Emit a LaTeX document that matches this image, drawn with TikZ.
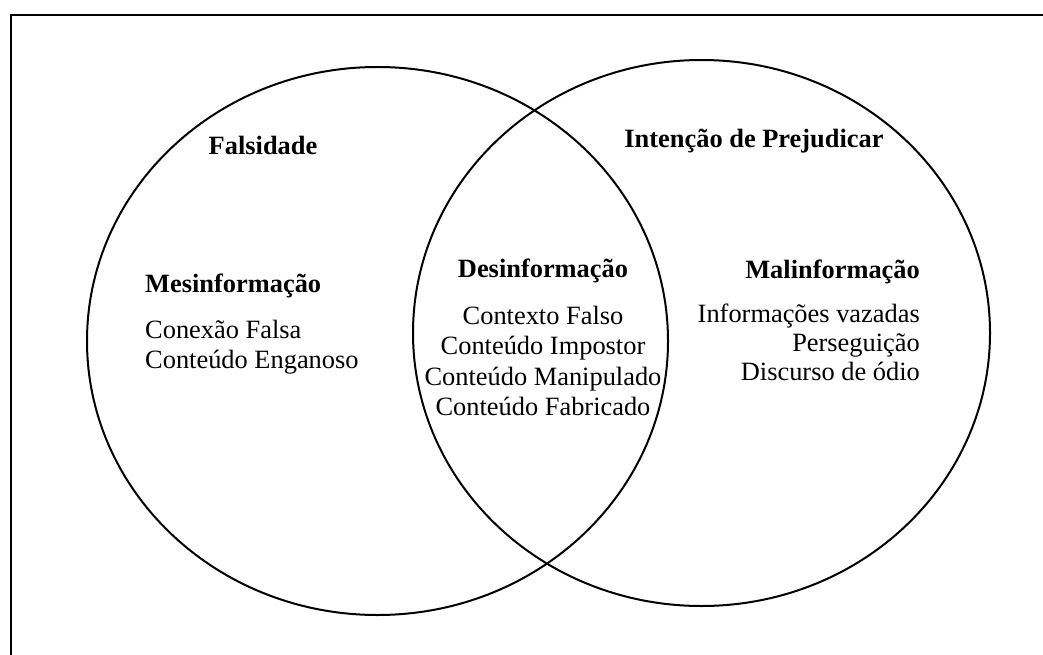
\documentclass[tikz,border=0pt]{standalone}
\usepackage{fontspec}
\setmainfont{Liberation Serif}
\begin{document}
\begin{tikzpicture}[x=1pt,y=-1pt,
  ring/.style={draw=black,line width=2pt},
  frame/.style={draw=black,line width=2pt},
  title/.style={inner sep=0pt,font=\fontsize{26.4}{30}\selectfont\bfseries},
  item/.style={inner sep=0pt,font=\fontsize{26.4}{30}\selectfont}]
\useasboundingbox (0,0) rectangle (1043,655);
% outer frame (left and top edges)
\coordinate (fb) at (11,655);
\coordinate (fc) at (11,15);
\coordinate (fr) at (1043,15);
\draw[frame] (fb) -- (fc) -- (fr);
% circles
\draw[ring] (377.5,341) ellipse [x radius=290.5pt, y radius=274pt];
\draw[ring] (701.5,333) ellipse [x radius=288.5pt, y radius=273pt];
% titles
\node[title,anchor=base] (fals) at (263,155) {Falsidade};
\node[title,anchor=base] (int) at (754,148) {Intenção de Prejudicar};
% left block
\node[title,anchor=base west] (mes) at (145,292) {Mesinformação};
\node[item,anchor=base west] (m1) at (145,338) {Conexão Falsa};
\node[item,anchor=base west] (m2) at (145,368) {Conteúdo Enganoso};
% middle block
\node[title,anchor=base] (des) at (543,277) {Desinformação};
\node[item,anchor=base] (d1) at (543,324) {Contexto Falso};
\node[item,anchor=base] (d2) at (543,354.5) {Conteúdo Impostor};
\node[item,anchor=base] (d3) at (543,385) {Conteúdo Manipulado};
\node[item,anchor=base] (d4) at (543,415.5) {Conteúdo Fabricado};
% right block
\node[title,anchor=base east] (mal) at (920,278) {Malinformação};
\node[item,anchor=base east] (r1) at (920,322) {Informações vazadas};
\node[item,anchor=base east] (r2) at (920,351) {Perseguição};
\node[item,anchor=base east] (r3) at (920,380) {Discurso de ódio};
\end{tikzpicture}
\end{document}
